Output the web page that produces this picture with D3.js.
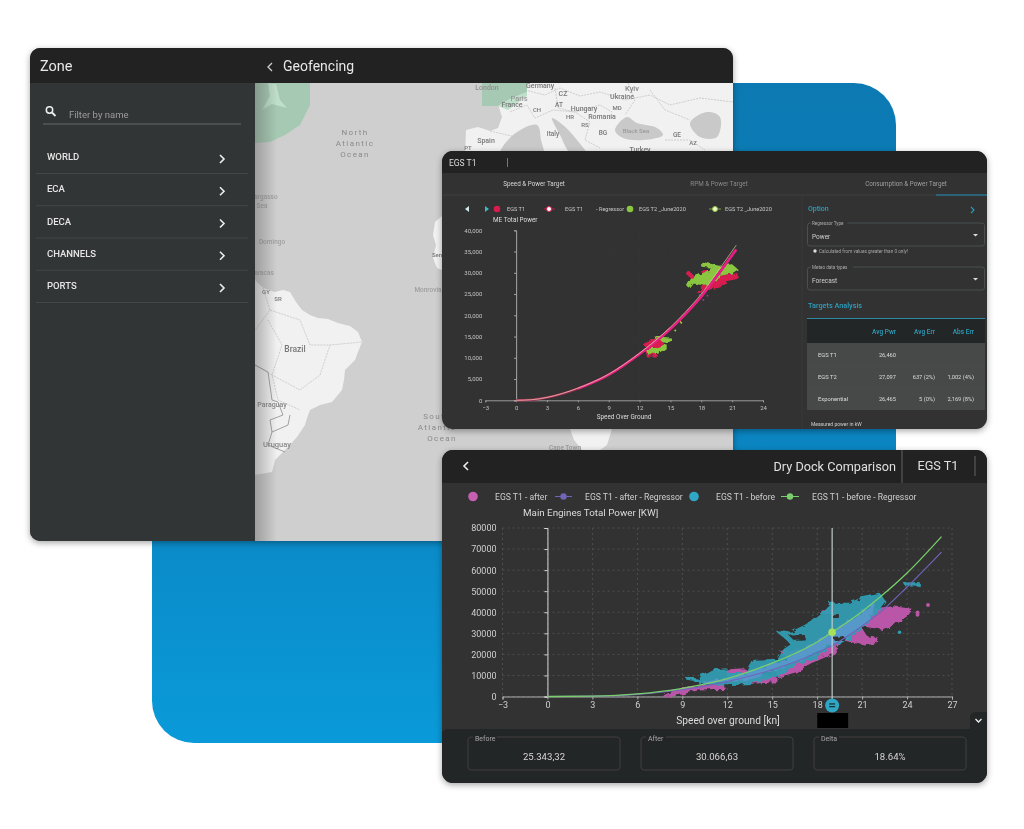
<!DOCTYPE html>
<html>
<head>
<meta charset="utf-8">
<title>Dashboards</title>
<script src="https://d3js.org/d3.v7.min.js"></script>
<style>
html,body{margin:0;padding:0;background:#fff;}
svg{display:block;}
text{font-family:Roboto,"Noto Sans",sans-serif;}
</style>
</head>
<body>
<div id="viz"></div>
<script>
// ---- data ----
var zoneItems = ['WORLD','ECA','DECA','CHANNELS','PORTS'];

// speed & power chart (upper)
var topXTicks = [-3,0,3,6,9,12,15,18,21,24];
var topYTicks = [0,5000,10000,15000,20000,25000,30000,35000,40000];
var topSpeed = [0,1.5,3,6,9,12,13.5,15,16.5,18,19.5,21.4];
var topRegT1 = [0,120,650,2750,6000,10900,13700,16800,20400,24400,29200,35500];
var topRegT2 = [0,130,680,2850,6150,11100,14000,17200,20900,25000,30000,36500];
var topRedLow = [[12.56,14040],[13.85,14350],[14.4,13000],[13.85,11450],[13.7,10500],[12.7,10500],[12.5,12630]];
var topGreenLowA = [[13.5,14820],[15.0,14590],[14.56,13700],[13.9,13900]];
var topGreenLowB = [[14.56,13000],[14.56,12080],[13.85,10900],[12.9,10900],[12.7,11840],[13.5,12200]];
var topGreen = [[16.7,26900],[17.1,28700],[18.4,30040],[19.2,31300],[18.06,31600],[18.06,32400],[19.7,31450],[20.97,31840],[21.45,30820],[20.97,30040],[19.84,29490],[19.35,27920],[18.4,27140],[17.25,27690],[16.9,26590]];
var topRedA = [[19.7,29100],[21.45,29730],[21.45,28700],[20.3,28160],[19.8,26750],[18.4,26100],[17.7,25330],[18.7,27900]];
var topRedB = [[18.06,30500],[19.0,30500],[19.0,29700],[18.2,29700]];
var topRedDots = [[16.93,29490],[16.75,29900],[17.1,29100]];
var topGreenDots = [[16.05,18270],[15.47,16400],[16.2,19900],[15.95,18600]];
var topPurpleDots = [[18.2,23600],[17.85,24800],[18.6,24600]];

var analysisHead = ['Avg Pwr','Avg Err','Abs Err'];
var analysisNames = ['EGS T1','EGS T2','Exponential'];
var analysisPwr = ['26,460','27,097','26,465'];
var analysisErr = ['','637 (2%)','5 (0%)'];
var analysisAbs = ['','1,002 (4%)','2,169 (8%)'];

// dry dock chart (lower)
var botXTicks = [-3,0,3,6,9,12,15,18,21,24,27];
var botYTicks = [0,10000,20000,30000,40000,50000,60000,70000,80000];
var botSpeed = [0,3,6,9,12,15,18,19,21,22.2,24,26.3];
var botRegBefore = [0,200,1250,3900,8500,15800,25900,30500,40400,47200,58600,75900];
var botRegAfter = [0,150,1000,3200,7100,12700,20800,24200,33500,40000,52000,68600];
var botBlue = [[10.16,6350],[10.16,9500],[10.97,12400],[11.9,13000],[12.0,10800],[13.3,10800],[13.8,17100],[15.4,17500],[15.8,22200],[16.3,24600],[16.0,27000],[15.4,30500],[16.3,30500],[17.3,34100],[18.3,39700],[18.9,44100],[20.1,44100],[21.0,46800],[22.2,48400],[22.5,45200],[21.9,39700],[21.2,33300],[20.1,27800],[19.1,23800],[17.7,18300],[16.6,15500],[15.2,9500],[13.5,6300],[11.7,5600]];
var botBlueOverlap = [[10.5,6500],[13,10000],[16,17500],[18,25500],[19,30000],[20.5,37000],[21.8,44000],[21.5,36000],[20,28500],[19,24800],[17,18000],[15,12500],[13,7800]];
var botBlueSliver = [[9.3,9000],[10.0,8200],[10.0,7500],[9.3,8300]];
var botBlueTop = [[23.8,53800],[24.8,54000],[24.8,52500],[23.9,52600]];
var botPinkA = [[7.8,300],[8.4,2400],[9.3,4400],[11.7,5900],[11.8,3500],[10.0,3200],[9.1,1600],[8.2,300]];
var botPinkB = [[11.9,12400],[13.1,13000],[14.0,9800],[15.3,8700],[15.3,7100],[13.3,6300],[12.1,7900]];
var botPinkC = [[15.6,21400],[17.3,22200],[18.7,24600],[19.5,24600],[19.1,20600],[17.5,15900],[16.6,11900],[15.4,9500],[15.2,12700],[16.3,17500]];
var botPinkD = [[21.9,41600],[23.1,42500],[24.3,41300],[24.0,38400],[23.1,34900],[22.2,31700],[21.9,25700],[21.2,24600],[19.8,27000],[19.0,27000],[20.1,31700],[21.0,36500]];
var botPinkTop = [[18.3,41000],[19.0,41000],[19.0,39500],[18.4,39500]];
var botPinkDots = [[25.4,43500],[24.7,38800],[24.7,39900]];
var botBlueDots = [[23.5,30500]];
var botHoleA = [[16.2,29000],[17.1,29300],[17.2,27000],[16.5,26900]];
var botHoleB = [[21.05,32800],[22.2,31500],[22.2,28300],[21.4,28900]];
var botHoleC = [[19.1,38800],[19.4,38800],[19.4,37600],[19.1,37600]];
var botHoleD = [[19.1,28000],[19.8,28200],[19.7,26700],[19.2,26700]];
var cursorSpeed = 19;
var cursorPower = 30500;

var footLabels = ['Before','After','Delta'];
var footValues = ['25.343,32','30.066,63','18.64%'];

// ---- page ----
var width = 1024, height = 829;
var svg = d3.select('#viz').append('svg').attr('width',width).attr('height',height);
var defs = svg.append('defs');

var bg = defs.append('linearGradient').attr('id','blueBg')
    .attr('x1','0').attr('y1','0').attr('x2','0').attr('y2','1');
bg.append('stop').attr('offset','0').attr('stop-color','#0c79b2');
bg.append('stop').attr('offset','0.6').attr('stop-color','#0b86c3');
bg.append('stop').attr('offset','1').attr('stop-color','#0a9ad9');

var fade = defs.append('linearGradient').attr('id','mapFade');
fade.append('stop').attr('offset','0').attr('stop-color','#555').attr('stop-opacity',.4);
fade.append('stop').attr('offset','1').attr('stop-color','#555').attr('stop-opacity',0);

var shadow = defs.append('filter').attr('id','shadow')
    .attr('x','-5%').attr('y','-5%').attr('width','110%').attr('height','112%');
shadow.append('feDropShadow').attr('dx',0).attr('dy',2).attr('stdDeviation',3)
    .attr('flood-color','#000').attr('flood-opacity',.35);

// roughens the outline of the dense scatter areas
var rough = defs.append('filter').attr('id','rough')
    .attr('x','-10%').attr('y','-10%').attr('width','120%').attr('height','120%');
rough.append('feTurbulence').attr('type','fractalNoise').attr('baseFrequency',.16)
    .attr('numOctaves',2).attr('seed',4).attr('result','n');
rough.append('feDisplacementMap').attr('in','SourceGraphic').attr('in2','n').attr('scale',6);

defs.append('clipPath').attr('id','zoneClip').append('rect')
    .attr('x',30).attr('y',48).attr('width',703).attr('height',493).attr('rx',10);

svg.append('rect').attr('x',152).attr('y',83).attr('width',744).attr('height',660)
    .attr('rx',42).attr('fill','url(#blueBg)');

// ---- zone panel with the map ----
var zone = svg.append('g').attr('filter','url(#shadow)').append('g').attr('clip-path','url(#zoneClip)');
zone.append('rect').attr('x',30).attr('y',48).attr('width',703).attr('height',493).attr('fill','#323434');
zone.append('rect').attr('x',30).attr('y',48).attr('width',703).attr('height',35).attr('fill','#202020');

var map = zone.append('g');
var outline = d3.line();
var outlineRound = d3.line().curve(d3.curveCatmullRomClosed);
map.append('rect').attr('x',255).attr('y',83).attr('width',478).attr('height',458).attr('fill','#cfcfcf');

var landEurope = [[527,83],[733,83],[733,155],[465,155],[466,130],[478,127],[490,131],[498,128],[502,117],[498,104],[505,100],[527,92]];
var landBrazil = [[255,280],[263,288],[275,292],[283,290],[290,292],[296,302],[302,310],[310,315],[318,318],[328,319],[338,323],[350,326],[358,332],[362,342],[358,352],[355,360],[345,370],[344,380],[342,390],[332,402],[320,405],[310,410],[307,418],[305,425],[297,437],[288,447],[275,460],[272,472],[255,475]];
var landSenegal = [[442,216],[435,222],[433,235],[436,245],[433,258],[437,268],[442,270]];
var landAfrica = [[570,429],[612,429],[607,445],[600,450],[582,450],[574,440]];
[landEurope,landBrazil,landSenegal,landAfrica].forEach(function(p){
    map.append('path').attr('d',outline(p)+'Z').attr('fill','#f1f1f1');
});
var seas = [
    [[500,155],[513,135],[537,125],[541,140],[543,155]],
    [[552,118],[563,125],[577,140],[587,155],[572,155],[560,135]],
    [[615,130],[627,117],[637,123],[657,128],[663,135],[643,140],[623,138]],
    [[690,123],[707,112],[720,117],[717,137],[700,137]]
];
seas.forEach(function(p){
    map.append('path').attr('d',outlineRound(p)).attr('fill','#c9c9c9');
});
var borders = [
    [[510,112],[527,105],[535,118],[553,110],[575,112],[600,105],[612,112]],
    [[525,90],[545,95],[560,88],[580,96],[600,92],[625,100],[650,95],[670,105],[700,98],[733,102]],
    [[555,88],[558,108],[575,112],[590,122],[585,140],[600,148]],
    [[628,83],[635,100],[625,115]],
    [[650,90],[665,110],[690,120]],
    [[490,131],[520,138],[530,128]],
    [[665,140],[690,140],[705,150]],
    [[263,288],[270,310],[255,330]],
    [[270,310],[300,320],[310,345],[330,345],[362,342]],
    [[268,320],[282,345],[272,375],[300,390],[320,375],[330,345]],
    [[255,365],[272,375],[278,400],[300,410]],
    [[255,365],[268,372],[272,400],[278,402],[283,415],[270,420],[272,432],[288,425],[290,415]],
    [[272,432],[268,445],[285,452]]
];
borders.forEach(function(p,i){
    map.append('path').attr('d',outline(p)).attr('fill','none')
        .attr('stroke', i>10 ? '#8d8d8d' : '#c4c4c4').attr('stroke-width',.8)
        .attr('stroke-dasharray', i>10 ? null : '2,1');
});
// tinted zones
map.append('path').attr('d',outline([[255,83],[310,83],[310,105],[300,125],[285,135],[270,142],[255,143]])+'Z').attr('fill','#a6c9b3');
map.append('path').attr('d',outline([[268,83],[276,84],[280,100],[287,108],[272,104],[262,110],[270,96]])+'Z').attr('fill','#bedfca');
map.append('path').attr('d',outline([[482,83],[527,83],[527,92],[510,99],[498,106],[482,106]])+'Z').attr('fill','#a6c9b3');
map.append('path').attr('d',outline([[498,106],[510,99],[527,92],[527,96],[508,110]])+'Z').attr('fill','#bedfca');

var mapLabels = [
    ['North',355,135,'#8a8a8a',8,1.4],['Atlantic',355,146,'#8a8a8a',8,1.4],['Ocean',355,157,'#8a8a8a',8,1.4],
    ['South',437,419,'#8a8a8a',8,1.4],['Atlantic',437,430,'#8a8a8a',8,1.4],['Ocean',442,441,'#8a8a8a',8,1.4],
    ['Sargasso',264,199,'#a0a0a0',6.5,0],['Sea',262,208,'#a0a0a0',6.5,0],['Domingo',272,244,'#a0a0a0',6.5,0],
    ['Caracas',262,275,'#a0a0a0',6.5,0],['GY',266,294,'#777',6,0],['SR',278,301,'#777',6,0],
    ['Brazil',295,352,'#777',8.5,0],['Paraguay',272,407,'#888',7,0],['Uruguay',277,447,'#888',7.5,0],
    ['Monrovia',428,292,'#a0a0a0',6.5,0],['Sen',437,257,'#777',6,0],
    ['London',487,90,'#8f8f8f',7,0],['Germany',540,88,'#777',7,0],['Paris',519,101,'#999',7.5,0],['France',512,107,'#777',7,0],
    ['CZ',563,96,'#777',7,0],['Kyiv',632,91,'#888',7.5,0],['Ukraine',622,99,'#777',7,0],['AT',559,107,'#777',6.5,0],
    ['Hungary',584,111,'#777',7,0],['MD',617,110,'#777',6,0],['CH',537,112,'#777',6,0],['HR',570,119,'#777',6,0],
    ['Romania',602,119,'#777',7,0],['RS',585,127,'#777',6,0],['Italy',553,136,'#777',6.5,0],['BG',603,135,'#777',6.5,0],
    ['Black Sea',636,133,'#999',6,0],['GE',677,137,'#777',6.5,0],['AZ',693,145,'#777',6,0],['Spain',486,143,'#777',7,0],
    ['PT',468,150,'#777',6,0],['Turkey',640,152,'#777',7,0],['Cape Town',565,450,'#999',6.5,0]
];
map.selectAll('text.maplabel').data(mapLabels).enter().append('text').attr('class','maplabel')
    .attr('x',function(d){return d[1];}).attr('y',function(d){return d[2];})
    .attr('text-anchor','middle').attr('fill',function(d){return d[3];})
    .attr('font-size',function(d){return d[4];}).attr('letter-spacing',function(d){return d[5];})
    .attr('font-weight',function(d){return d[5] ? 400 : 500;})
    .text(function(d){return d[0];});
map.append('rect').attr('x',255).attr('y',83).attr('width',22).attr('height',458).attr('fill','url(#mapFade)');

// zone sidebar
zone.append('rect').attr('x',30).attr('y',83).attr('width',225).attr('height',458).attr('fill','#323434');
zone.append('text').attr('x',40).attr('y',71).attr('fill','#e8e8e8').attr('font-size',14.5).text('Zone');
zone.append('path').attr('d','M272,63 L268,67 L272,71').attr('fill','none').attr('stroke','#cfcfcf').attr('stroke-width',1.3);
zone.append('text').attr('x',283).attr('y',71).attr('fill','#e8e8e8').attr('font-size',14).text('Geofencing');
zone.append('circle').attr('cx',49.5).attr('cy',110).attr('r',3.2).attr('fill','none').attr('stroke','#eee').attr('stroke-width',1.5);
zone.append('line').attr('x1',52).attr('y1',112.5).attr('x2',55.5).attr('y2',116).attr('stroke','#eee').attr('stroke-width',1.8);
zone.append('text').attr('x',69).attr('y',118).attr('fill','#9d9d9d').attr('font-size',9.5).text('Filter by name');
zone.append('line').attr('x1',43).attr('x2',241).attr('y1',124).attr('y2',124).attr('stroke','#6a6c6c');

var zoneY = d3.scalePoint().domain(zoneItems).range([157,286]);
var items = zone.selectAll('g.item').data(zoneItems).enter().append('g').attr('class','item')
    .attr('transform',function(d){return 'translate(0,'+zoneY(d)+')';});
items.append('text').attr('x',47).attr('y',3).attr('fill','#e6e6e6').attr('font-size',9.5).attr('font-weight',500)
    .text(function(d){return d;});
items.append('path').attr('d','M220,-2 L224,2 L220,6').attr('fill','none').attr('stroke','#eee').attr('stroke-width',1.6);
items.append('line').attr('x1',36).attr('x2',248).attr('y1',16.5).attr('y2',16.5).attr('stroke','#454747');

// ---- shared helpers ----
function cloud(g,pts,x,y,color,opacity){
    var l = d3.line().x(function(d){return x(d[0]);}).y(function(d){return y(d[1]);});
    g.append('path').attr('d',l(pts)+'Z').attr('fill',color).attr('fill-opacity',opacity||1)
        .attr('stroke',color).attr('stroke-opacity',opacity||1).attr('stroke-width',1.6)
        .attr('stroke-linejoin','round').attr('filter','url(#rough)');
}
function dots(g,pts,x,y,color,r){
    g.selectAll(null).data(pts).enter().append('circle')
        .attr('cx',function(d){return x(d[0]);}).attr('cy',function(d){return y(d[1]);})
        .attr('r',r).attr('fill',color);
}
function curve(g,xs,ys,x,y,color,w){
    var l = d3.line().x(function(d){return x(d);}).y(function(d,i){return y(ys[i]);}).curve(d3.curveMonotoneX);
    g.append('path').attr('d',l(xs)).attr('fill','none').attr('stroke',color).attr('stroke-width',w);
}
function styleAxis(g,color,font,lineColor){
    g.selectAll('text').attr('fill',color).attr('font-size',font);
    g.selectAll('line').attr('stroke',lineColor);
    g.selectAll('path').attr('stroke',lineColor);
}

// ---- upper panel: speed & power target ----
var upper = svg.append('g').attr('filter','url(#shadow)');
upper.append('rect').attr('x',442).attr('y',151).attr('width',545).attr('height',278).attr('rx',11).attr('fill','#303131');
upper.append('path').attr('d','M442,173 V162 a11,11 0 0 1 11,-11 H976 a11,11 0 0 1 11,11 V173 Z').attr('fill','#202121');
upper.append('text').attr('x',449).attr('y',166).attr('fill','#dcdcdc').attr('font-size',8.5).text('EGS T1');
upper.append('line').attr('x1',507.5).attr('x2',507.5).attr('y1',158).attr('y2',167).attr('stroke','#777');
upper.append('line').attr('x1',442).attr('x2',987).attr('y1',195).attr('y2',195).attr('stroke','#414343');
upper.append('line').attr('x1',936).attr('x2',987).attr('y1',195).attr('y2',195).attr('stroke','#1f8fb8').attr('stroke-width',1.2);
upper.append('line').attr('x1',802).attr('x2',802).attr('y1',196).attr('y2',429).attr('stroke','#3b3d3d');
[['Speed & Power Target',534,'#d6d6d6'],['RPM & Power Target',719,'#8b8b8b'],['Consumption & Power Target',906,'#a0a0a0']].forEach(function(t){
    upper.append('text').attr('x',t[1]).attr('y',186).attr('text-anchor','middle').attr('fill',t[2]).attr('font-size',6.3).text(t[0]);
});

var tx = d3.scaleLinear().domain([-3,24]).range([485.3,763]);
var ty = d3.scaleLinear().domain([0,40000]).range([400.3,230.3]);
var tg = upper.append('g');

tg.selectAll('line.gx').data(topXTicks).enter().append('line').attr('class','gx')
    .attr('x1',tx).attr('x2',tx).attr('y1',ty(40000)).attr('y2',ty(0))
    .attr('stroke','#3e4040').attr('stroke-width',.5).attr('stroke-dasharray','1,2');
tg.selectAll('line.gy').data(topYTicks).enter().append('line').attr('class','gy')
    .attr('y1',ty).attr('y2',ty).attr('x1',tx(-3)).attr('x2',tx(24))
    .attr('stroke','#3e4040').attr('stroke-width',.5).attr('stroke-dasharray','1,2');

tg.append('g').attr('transform','translate(0,'+ty(0)+')')
    .call(d3.axisBottom(tx).tickValues(topXTicks).tickSize(2).tickFormat(d3.format('d')))
    .call(styleAxis,'#c4c4c4',6,'#9a9a9a');
tg.append('g').attr('transform','translate('+tx(-3)+',0)')
    .call(d3.axisLeft(ty).tickValues(topYTicks).tickSize(0).tickPadding(3).tickFormat(d3.format(',')))
    .call(function(g){g.select('.domain').remove();})
    .call(styleAxis,'#c4c4c4',6,'#9a9a9a');
tg.append('g').attr('transform','translate('+tx(0)+',0)')
    .call(d3.axisLeft(ty).tickValues(topYTicks).tickSize(2).tickFormat(''))
    .call(styleAxis,'#c4c4c4',6,'#a8a8a8');

cloud(tg,topGreenLowA,tx,ty,'#8bc640');
cloud(tg,topRedLow,tx,ty,'#d81f4f');
cloud(tg,topGreenLowB,tx,ty,'#8bc640');
cloud(tg,topRedA,tx,ty,'#d81f4f');
cloud(tg,topRedB,tx,ty,'#d81f4f');
cloud(tg,topGreen,tx,ty,'#8bc640');
dots(tg,topRedDots,tx,ty,'#d81f4f',2.2);
dots(tg,topGreenDots,tx,ty,'#b7c23f',1);
dots(tg,topPurpleDots,tx,ty,'#a0309a',1);
curve(tg,topSpeed,topRegT1,tx,ty,'#9c2a55',2.6);
curve(tg,topSpeed.slice(3),topRegT1.slice(3),tx,ty,'#ea1f86',2.4);
curve(tg,topSpeed.slice(0,8),topRegT2.slice(0,8),tx,ty,'#e85a94',.7);
curve(tg,topSpeed,topRegT2,tx,ty,'#d9c99a',.7);

// upper legend
var tl = upper.append('g');
tl.append('path').attr('d','M469,206 L465,209 L469,212Z').attr('fill','#cfe8ea');
tl.append('path').attr('d','M485,206 L489,209 L485,212Z').attr('fill','#46b4c8');
tl.append('circle').attr('cx',497).attr('cy',209).attr('r',3.3).attr('fill','#d81f4f');
tl.append('line').attr('x1',544).attr('x2',555).attr('y1',209).attr('y2',209).attr('stroke','#d81f4f').attr('stroke-width',.8);
tl.append('circle').attr('cx',549).attr('cy',209).attr('r',2.5).attr('fill','#fff').attr('stroke','#d81f4f');
tl.append('circle').attr('cx',630).attr('cy',209).attr('r',3.3).attr('fill','#8bc640');
tl.append('line').attr('x1',709).attr('x2',721).attr('y1',209).attr('y2',209).attr('stroke','#8bc640').attr('stroke-width',.8);
tl.append('circle').attr('cx',715).attr('cy',209).attr('r',2.5).attr('fill','#f5f5d5').attr('stroke','#8bc640');
[['EGS T1',507],['EGS T1',565],['- Regressor',596],['EGS T2 _June2020',639],['EGS T2 _June2020',725]].forEach(function(t){
    tl.append('text').attr('x',t[1]).attr('y',211).attr('fill','#c8c8c8').attr('font-size',5.6).text(t[0]);
});
upper.append('text').attr('x',493).attr('y',222).attr('fill','#dedede').attr('font-size',6.4).text('ME Total Power');
upper.append('text').attr('x',624).attr('y',419).attr('text-anchor','middle').attr('fill','#dedede').attr('font-size',6.4).text('Speed Over Ground');

// option column
var teal = '#2f9fbe';
upper.append('text').attr('x',808).attr('y',211).attr('fill',teal).attr('font-size',7).attr('font-weight',500).text('Option');
upper.append('path').attr('d','M971,207 L974,210 L971,213').attr('fill','none').attr('stroke',teal).attr('stroke-width',1.1);
[[223,'Regressor Type','Power'],[267,'Meteo data types','Forecast']].forEach(function(s){
    upper.append('rect').attr('x',807.5).attr('y',s[0]).attr('width',177).attr('height',23).attr('rx',2.5).attr('fill','none').attr('stroke','#4d4f4f');
    upper.append('rect').attr('x',811).attr('y',s[0]-2).attr('width',s[1].length*2.6).attr('height',4).attr('fill','#303131');
    upper.append('text').attr('x',812).attr('y',s[0]+1.5).attr('fill','#adadad').attr('font-size',4.6).text(s[1]);
    upper.append('text').attr('x',812).attr('y',s[0]+16).attr('fill','#d0d0d0').attr('font-size',6.5).text(s[2]);
    upper.append('path').attr('d','M973,'+(s[0]+11)+' h5 l-2.5,2.5 Z').attr('fill','#ddd');
});
upper.append('circle').attr('cx',815).attr('cy',251).attr('r',1.7).attr('fill','#ddd');
upper.append('text').attr('x',819).attr('y',253).attr('fill','#a8a8a8').attr('font-size',4.7).text('Calculated from values greater than 0 only!');
upper.append('text').attr('x',808).attr('y',308).attr('fill',teal).attr('font-size',7.3).attr('font-weight',500).text('Targets Analysis');
upper.append('rect').attr('x',807).attr('y',319).attr('width',178).attr('height',24).attr('fill','#242525');
upper.append('line').attr('x1',807).attr('x2',985).attr('y1',318.5).attr('y2',318.5).attr('stroke',teal).attr('stroke-width',.8);
upper.append('rect').attr('x',807).attr('y',343).attr('width',178).attr('height',67).attr('fill','#474848');
upper.append('line').attr('x1',807).attr('x2',985).attr('y1',366).attr('y2',366).attr('stroke','#525353').attr('stroke-width',.5);
upper.append('line').attr('x1',807).attr('x2',985).attr('y1',388).attr('y2',388).attr('stroke','#525353').attr('stroke-width',.5);
var colX = d3.scaleOrdinal().domain(analysisHead).range([896,935,974]);
analysisHead.forEach(function(h){
    upper.append('text').attr('x',colX(h)).attr('y',334).attr('text-anchor','end').attr('fill',teal).attr('font-size',6.5).attr('font-weight',500).text(h);
});
analysisNames.forEach(function(n,i){
    var ry = 357 + i*22;
    upper.append('text').attr('x',818).attr('y',ry).attr('fill','#dcdcdc').attr('font-size',5.8).text(n);
    [analysisPwr,analysisErr,analysisAbs].forEach(function(col,j){
        upper.append('text').attr('x',colX(analysisHead[j])).attr('y',ry).attr('text-anchor','end')
            .attr('fill','#dcdcdc').attr('font-size',5.7).text(col[i]);
    });
});
upper.append('text').attr('x',811).attr('y',426).attr('fill','#d0d0d0').attr('font-size',5).text('Measured power in kW');

// ---- lower panel: dry dock comparison ----
var bot = svg.append('g').attr('filter','url(#shadow)');
bot.append('rect').attr('x',442).attr('y',450).attr('width',545).attr('height',333).attr('rx',11).attr('fill','#303131');
bot.append('path').attr('d','M442,483 V461 a11,11 0 0 1 11,-11 H976 a11,11 0 0 1 11,11 V483 Z').attr('fill','#202121');
bot.append('path').attr('d','M468,462 L464,466 L468,470').attr('fill','none').attr('stroke','#eee').attr('stroke-width',1.6);
bot.append('text').attr('x',896).attr('y',471).attr('text-anchor','end').attr('fill','#e0e0e0').attr('font-size',12.7).text('Dry Dock Comparison');
bot.append('line').attr('x1',902).attr('x2',902).attr('y1',450).attr('y2',483).attr('stroke','#666');
bot.append('text').attr('x',938).attr('y',470).attr('text-anchor','middle').attr('fill','#e0e0e0').attr('font-size',12.7).text('EGS T1');
bot.append('line').attr('x1',975).attr('x2',975).attr('y1',456).attr('y2',476).attr('stroke','#666');

var bx = d3.scaleLinear().domain([-3,27]).range([502.5,952]);
var by = d3.scaleLinear().domain([0,80000]).range([696.5,528]);
var bg2 = bot.append('g');
bg2.selectAll('line.gx').data(botXTicks).enter().append('line').attr('class','gx')
    .attr('x1',bx).attr('x2',bx).attr('y1',by(80000)).attr('y2',by(0))
    .attr('stroke','#575858').attr('stroke-width',.8).attr('stroke-dasharray','2,3');
bg2.selectAll('line.gy').data(botYTicks).enter().append('line').attr('class','gy')
    .attr('y1',by).attr('y2',by).attr('x1',bx(-3)).attr('x2',bx(27))
    .attr('stroke','#575858').attr('stroke-width',.8).attr('stroke-dasharray','2,3');

bg2.append('g').attr('transform','translate(0,'+by(0)+')')
    .call(d3.axisBottom(bx).tickValues(botXTicks).tickSize(3).tickPadding(2).tickFormat(d3.format('d')))
    .call(styleAxis,'#d0d0d0',9,'#b0b0b0');
bg2.append('g').attr('transform','translate('+bx(-3)+',0)')
    .call(d3.axisLeft(by).tickValues(botYTicks).tickSize(0).tickPadding(6).tickFormat(d3.format('d')))
    .call(function(g){g.select('.domain').remove();})
    .call(styleAxis,'#d0d0d0',9,'#b0b0b0');
bg2.append('g').attr('transform','translate('+bx(0)+',0)')
    .call(d3.axisLeft(by).tickValues(botYTicks).tickSize(3).tickFormat(''))
    .call(styleAxis,'#d0d0d0',9,'#d8d8d8');

var pink = '#b956a8', blue = '#2f9db3';
[botPinkA,botPinkB,botPinkC,botPinkD,botPinkTop].forEach(function(p){cloud(bg2,p,bx,by,pink);});
[botBlue,botBlueSliver,botBlueTop].forEach(function(p){cloud(bg2,p,bx,by,blue,.92);});
cloud(bg2,botBlueOverlap,bx,by,'#5a98cc',.9);
[botHoleA,botHoleB,botHoleC,botHoleD].forEach(function(p){cloud(bg2,p,bx,by,'#303131');});
dots(bg2,botPinkDots,bx,by,pink,2);
dots(bg2,botBlueDots,bx,by,blue,1.8);

curve(bg2,botSpeed,botRegAfter,bx,by,'#6f66b8',1.2);
curve(bg2,botSpeed,botRegBefore,bx,by,'#79cf6c',1.3);

// cursor
bg2.append('line').attr('x1',bx(cursorSpeed)).attr('x2',bx(cursorSpeed)).attr('y1',by(80000)).attr('y2',by(0)+6)
    .attr('stroke','#cfd6d6').attr('stroke-width',1.1);
bg2.append('circle').attr('cx',bx(cursorSpeed)).attr('cy',by(cursorPower)).attr('r',3.8).attr('fill','#a8e05a');
bg2.append('rect').attr('x',bx(cursorSpeed)-15).attr('y',713).attr('width',31).attr('height',15).attr('fill','#050505');
bg2.append('circle').attr('cx',bx(cursorSpeed)).attr('cy',705.5).attr('r',7).attr('fill','#2fa6c4');
bg2.append('rect').attr('x',bx(cursorSpeed)-3).attr('y',703.3).attr('width',6).attr('height',1.3).attr('fill','#20333a');
bg2.append('rect').attr('x',bx(cursorSpeed)-3).attr('y',706).attr('width',6).attr('height',1.3).attr('fill','#20333a');

// lower legend
var bl = bot.append('g');
bl.append('circle').attr('cx',473).attr('cy',496.5).attr('r',4.8).attr('fill','#c75fb0');
bl.append('line').attr('x1',555).attr('x2',572).attr('y1',496.5).attr('y2',496.5).attr('stroke','#6f66b8');
bl.append('circle').attr('cx',563.5).attr('cy',496.5).attr('r',3.2).attr('fill','#6f66b8');
bl.append('circle').attr('cx',694).attr('cy',496.5).attr('r',4.8).attr('fill','#2fa6c4');
bl.append('line').attr('x1',781).attr('x2',799).attr('y1',496.5).attr('y2',496.5).attr('stroke','#79cf6c');
bl.append('circle').attr('cx',790).attr('cy',496.5).attr('r',3.2).attr('fill','#79cf6c');
[['EGS T1 - after',495],['EGS T1 - after - Regressor',585],['EGS T1 - before',716],['EGS T1 - before - Regressor',812]].forEach(function(t){
    bl.append('text').attr('x',t[1]).attr('y',499.5).attr('fill','#cfcfcf').attr('font-size',8.6).text(t[0]);
});
bot.append('text').attr('x',523).attr('y',516).attr('fill','#dcdcdc').attr('font-size',9.8).text('Main Engines Total Power [KW]');
bot.append('text').attr('x',728).attr('y',723.5).attr('text-anchor','middle').attr('fill','#dcdcdc').attr('font-size',10.2).text('Speed over ground [kn]');

// footer with the three values
bot.append('path').attr('d','M446,729 H987 V772 a11,11 0 0 1 -11,11 H453 a11,11 0 0 1 -11,-11 V732 Z').attr('fill','#242525');
bot.append('path').attr('d','M970,729 V718 a6,6 0 0 1 6,-6 H987 V729 Z').attr('fill','#242525');
bot.append('path').attr('d','M975.5,719 L978.5,722 L981.5,719').attr('fill','none').attr('stroke','#eee').attr('stroke-width',1.4);
footLabels.forEach(function(lab,i){
    var fx = 468 + i*173;
    bot.append('rect').attr('x',fx).attr('y',737).attr('width',152).attr('height',33).attr('rx',3).attr('fill','none').attr('stroke','#3c3e3e');
    bot.append('rect').attr('x',fx+5).attr('y',735).attr('width',lab.length*3.6+2).attr('height',4).attr('fill','#242525');
    bot.append('text').attr('x',fx+7).attr('y',741).attr('fill','#a8a8a8').attr('font-size',7).text(lab);
    bot.append('text').attr('x',fx+76).attr('y',759.5).attr('text-anchor','middle').attr('fill','#d6d6d6').attr('font-size',9.6).text(footValues[i]);
});
</script>
</body>
</html>
